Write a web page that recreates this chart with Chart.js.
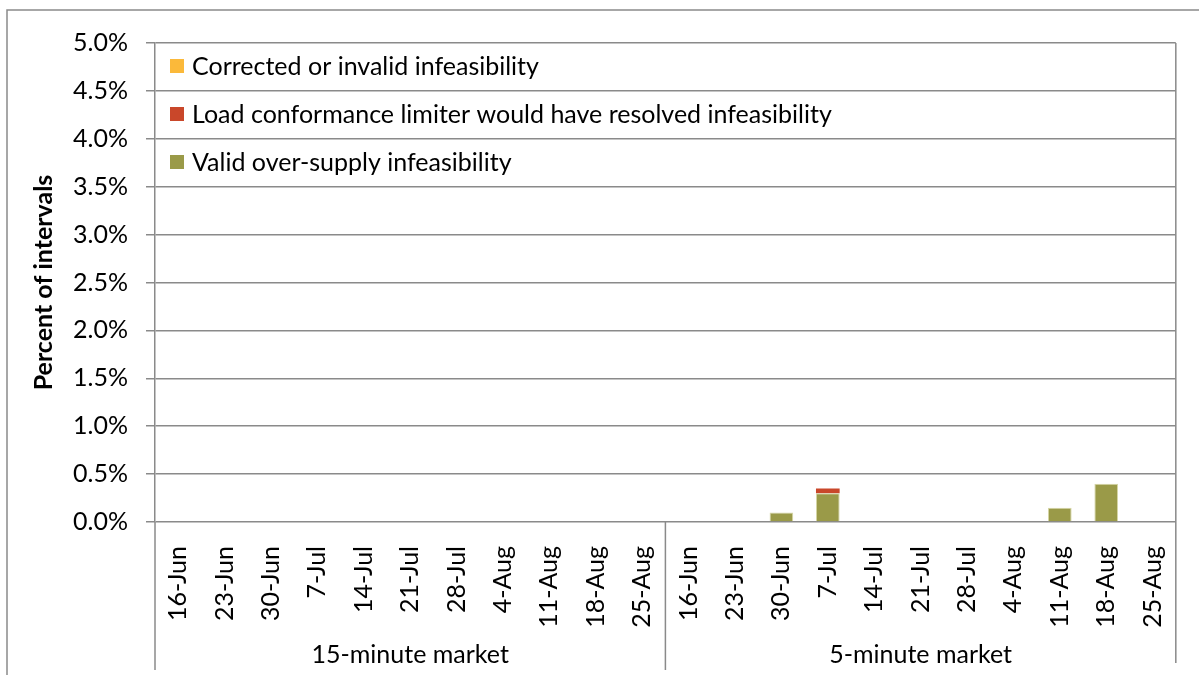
<!DOCTYPE html>
<html>
<head>
<meta charset="utf-8">
<script src="https://cdn.jsdelivr.net/npm/chart.js@4"></script>
<style>
  html, body { margin: 0; padding: 0; background: #fff; }
  #wrap { width: 1199px; height: 675px; position: relative; }
</style>
</head>
<body>
<div id="wrap"><canvas id="chart" width="1199" height="675"></canvas></div>
<script>
// semanas (mesmas nos dois mercados)
const weeks = ['16-Jun', '23-Jun', '30-Jun', '7-Jul', '14-Jul', '21-Jul', '28-Jul', '4-Aug', '11-Aug', '18-Aug', '25-Aug'];
const markets = ['15-minute market', '5-minute market'];
const labels = [...weeks, ...weeks];

// percent of intervals (%)
const validOverSupply = [0, 0, 0, 0, 0, 0, 0, 0, 0, 0, 0,   0, 0, 0.10, 0.30, 0, 0, 0, 0, 0.15, 0.40, 0];
const loadConformance = [0, 0, 0, 0, 0, 0, 0, 0, 0, 0, 0,   0, 0, 0, 0.05, 0, 0, 0, 0, 0, 0, 0];
const correctedInvalid = [0, 0, 0, 0, 0, 0, 0, 0, 0, 0, 0,   0, 0, 0, 0, 0, 0, 0, 0, 0, 0, 0];

const yTicks = [0, 0.5, 1, 1.5, 2, 2.5, 3, 3.5, 4, 4.5, 5];

const FONT = "Lato, 'Open Sans', sans-serif";
const FSIZE = 25;
const GRID = '#8a8a8a';

// legenda desenhada dentro da área do gráfico (ordem invertida, como no Excel)
const legendaInterna = {
  id: 'legendaInterna',
  afterDraw(chart) {
    const ctx = chart.ctx;
    const sets = chart.data.datasets.slice().reverse();
    ctx.save();
    ctx.font = `${FSIZE}px ${FONT}`;
    ctx.textBaseline = 'middle';
    sets.forEach((ds, i) => {
      const y = 66 + i * 48;
      ctx.fillStyle = ds.backgroundColor;
      ctx.fillRect(170, y - 7, 14, 14);
      ctx.fillStyle = '#000';
      ctx.fillText(ds.label, 192, y + 1);
    });
    ctx.restore();
  }
};

// separadores dos grupos, nomes dos mercados e borda externa
const eixoAgrupado = {
  id: 'eixoAgrupado',
  afterDraw(chart) {
    const { ctx, chartArea, scales } = chart;
    const x = scales.x;
    const n = weeks.length;
    ctx.save();
    ctx.strokeStyle = GRID;
    ctx.lineWidth = 1.5;

    const mid = (x.getPixelForTick(n - 1) + x.getPixelForTick(n)) / 2;
    ctx.beginPath();
    ctx.moveTo(chartArea.left, chartArea.bottom); ctx.lineTo(chartArea.left, 670);
    ctx.moveTo(mid, chartArea.bottom); ctx.lineTo(mid, 670);
    ctx.moveTo(chartArea.right, chartArea.top); ctx.lineTo(chartArea.right, 663);
    ctx.stroke();

    // borda do gráfico
    ctx.strokeRect(7, 10, 1260, 720);

    ctx.fillStyle = '#000';
    ctx.font = `${FSIZE}px ${FONT}`;
    ctx.textAlign = 'center';
    ctx.textBaseline = 'middle';
    ctx.fillText(markets[0], (chartArea.left + mid) / 2, 655);
    ctx.fillText(markets[1], (mid + chartArea.right) / 2, 655);
    ctx.restore();
  }
};

new Chart(document.getElementById('chart'), {
  type: 'bar',
  data: {
    labels: labels,
    datasets: [
      {
        label: 'Valid over-supply infeasibility',
        data: validOverSupply,
        backgroundColor: '#9a9a48',
        borderColor: '#d6d6a6',
        borderWidth: 1
      },
      {
        label: 'Load conformance limiter would have resolved infeasibility',
        data: loadConformance,
        backgroundColor: '#c9472a',
        borderWidth: 0
      },
      {
        label: 'Corrected or invalid infeasibility',
        data: correctedInvalid,
        backgroundColor: '#fbb93a',
        borderWidth: 0
      }
    ]
  },
  options: {
    responsive: false,
    animation: false,
    layout: { padding: { top: 43, right: 17, left: 0, bottom: 0 } },
    datasets: { bar: { barPercentage: 0.51, categoryPercentage: 1 } },
    plugins: {
      legend: { display: false },
      tooltip: { enabled: false }
    },
    scales: {
      x: {
        stacked: true,
        grid: { display: false },
        border: { display: false },
        ticks: {
          autoSkip: false,
          minRotation: 90,
          maxRotation: 90,
          padding: 16,
          color: '#000',
          font: { family: FONT, size: FSIZE }
        },
        afterFit(scale) { scale.height = 153; }
      },
      y: {
        stacked: true,
        min: 0,
        max: 5,
        afterBuildTicks(scale) { scale.ticks = yTicks.map(v => ({ value: v })); },
        grid: { color: GRID, lineWidth: 1.5, tickLength: 9 },
        border: { color: GRID, width: 1.5 },
        ticks: {
          padding: 18,
          color: '#000',
          font: { family: FONT, size: FSIZE },
          callback: v => v.toFixed(1) + '%'
        },
        title: {
          display: true,
          text: 'Percent of intervals',
          color: '#000',
          font: { family: FONT, size: 25, weight: 'bold' },
          padding: { top: 29, bottom: 0 }
        },
        afterFit(scale) { scale.width = 155; }
      }
    }
  },
  plugins: [legendaInterna, eixoAgrupado]
});
</script>
</body>
</html>
